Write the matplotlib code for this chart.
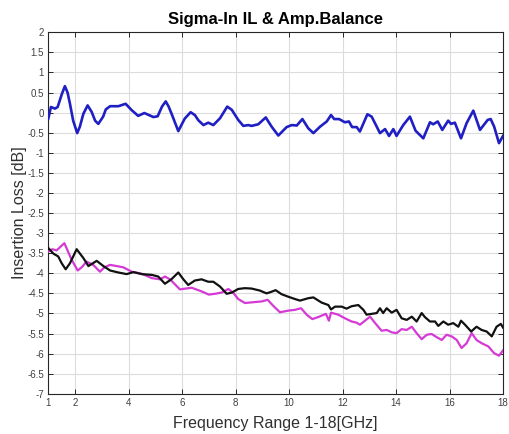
import matplotlib
matplotlib.use("Agg")
import matplotlib.pyplot as plt

blue_x = [1.00, 1.10, 1.25, 1.35, 1.50, 1.62, 1.72, 1.81, 1.93, 2.08, 2.18, 2.31, 2.47, 2.62, 2.75, 2.87,
          3.05, 3.15, 3.31, 3.62, 3.89, 4.12, 4.36, 4.59, 4.93, 5.09, 5.25, 5.39, 5.50, 5.61, 5.86, 6.10,
          6.32, 6.48, 6.61, 6.80, 6.98, 7.17, 7.42, 7.69, 7.86, 8.10, 8.29, 8.48, 8.60, 8.85, 9.13, 9.35,
          9.60, 9.91, 10.10, 10.29, 10.50, 10.72, 10.91, 11.16, 11.41, 11.57, 11.69, 11.87, 12.09, 12.24,
          12.36, 12.53, 12.65, 12.93, 13.09, 13.40, 13.59, 13.74, 13.90, 14.02, 14.27, 14.52, 14.73, 15.02,
          15.27, 15.39, 15.56, 15.73, 15.95, 16.06, 16.20, 16.43, 16.64, 16.89, 17.14, 17.43, 17.54, 17.67,
          17.85, 18.00]
blue_y = [-0.15, 0.14, 0.10, 0.14, 0.45, 0.66, 0.50, 0.22, -0.20, -0.51, -0.35, -0.03, 0.18, 0.02, -0.20, -0.28,
          -0.10, 0.08, 0.16, 0.16, 0.22, 0.06, -0.08, -0.01, -0.11, -0.09, 0.15, 0.28, 0.15, -0.03, -0.46, -0.15,
          0.01, -0.06, -0.19, -0.31, -0.25, -0.31, -0.14, 0.15, 0.07, -0.18, -0.33, -0.31, -0.33, -0.29, -0.12, -0.35,
          -0.57, -0.36, -0.31, -0.32, -0.16, -0.39, -0.51, -0.35, -0.22, -0.06, -0.16, -0.16, -0.24, -0.22,
          -0.36, -0.36, -0.47, -0.04, -0.10, -0.51, -0.41, -0.58, -0.41, -0.58, -0.31, -0.10, -0.45, -0.64,
          -0.24, -0.29, -0.22, -0.43, -0.20, -0.28, -0.25, -0.64, -0.26, 0.05, -0.43, -0.18, -0.16, -0.35,
          -0.76, -0.58]

black_x = [1.00, 1.19, 1.37, 1.50, 1.65, 1.81, 2.06, 2.31, 2.50, 2.81, 3.06, 3.31, 3.62, 3.93, 4.18, 4.49,
           4.87, 5.11, 5.36, 5.60, 5.86, 6.05, 6.23, 6.48, 6.73, 6.98, 7.17, 7.42, 7.67, 7.86, 8.10, 8.35,
           8.60, 8.91, 9.16, 9.30, 9.50, 9.72, 10.00, 10.22, 10.41, 10.72, 10.91, 11.22, 11.47, 11.57, 11.72,
           11.97, 12.15, 12.34, 12.59, 12.78, 12.90, 13.09, 13.28, 13.40, 13.52, 13.65, 13.84, 14.02, 14.21,
           14.40, 14.59, 14.77, 14.96, 15.08, 15.27, 15.46, 15.58, 15.77, 15.95, 16.14, 16.33, 16.43, 16.58,
           16.81, 17.01, 17.20, 17.39, 17.58, 17.76, 17.92, 18.00]
black_y = [-3.37, -3.51, -3.58, -3.75, -3.90, -3.75, -3.40, -3.62, -3.82, -3.69, -3.82, -3.93, -3.98, -4.02, -3.97, -4.02,
           -4.04, -4.08, -4.26, -4.15, -3.98, -4.15, -4.29, -4.18, -4.15, -4.21, -4.21, -4.33, -4.51, -4.48, -4.39, -4.37,
           -4.38, -4.43, -4.50, -4.47, -4.42, -4.52, -4.59, -4.64, -4.68, -4.62, -4.60, -4.73, -4.79, -4.90, -4.83,
           -4.83, -4.88, -4.82, -4.79, -4.91, -5.03, -5.01, -4.99, -4.87, -4.99, -4.87, -4.98, -4.91, -5.12,
           -5.16, -5.08, -5.20, -4.99, -5.09, -5.20, -5.20, -5.31, -5.20, -5.28, -5.24, -5.33, -5.18, -5.28,
           -5.45, -5.33, -5.41, -5.45, -5.57, -5.33, -5.26, -5.35]

mag_x = [1.00, 1.15, 1.31, 1.60, 1.87, 2.10, 2.25, 2.43, 2.68, 2.93, 3.10, 3.31, 3.80, 4.12, 4.49, 4.87,
         5.18, 5.36, 5.55, 5.92, 6.36, 6.73, 7.00, 7.23, 7.48, 7.73, 7.92, 8.10, 8.35, 8.66, 8.98, 9.20,
         9.41, 9.66, 9.97, 10.22, 10.45, 10.66, 10.87, 11.09, 11.38, 11.49, 11.57, 11.84, 12.09, 12.34,
         12.53, 12.65, 12.84, 13.03, 13.22, 13.46, 13.65, 13.84, 14.02, 14.21, 14.40, 14.59, 14.77, 14.96,
         15.15, 15.33, 15.52, 15.71, 15.89, 16.08, 16.27, 16.45, 16.64, 16.83, 17.01, 17.20, 17.45, 17.67,
         17.85, 18.00]
mag_y = [-3.46, -3.40, -3.43, -3.25, -3.66, -3.93, -3.85, -3.71, -3.79, -3.96, -3.85, -3.79, -3.85, -3.96, -4.01, -4.12,
         -4.15, -4.08, -4.15, -4.40, -4.36, -4.45, -4.53, -4.51, -4.48, -4.39, -4.49, -4.64, -4.74, -4.72, -4.70, -4.66,
         -4.81, -4.97, -4.93, -4.91, -4.87, -5.03, -5.14, -5.09, -5.01, -5.18, -4.98, -5.03, -5.12, -5.20,
         -5.23, -5.28, -5.18, -5.08, -5.24, -5.43, -5.41, -5.47, -5.49, -5.39, -5.41, -5.33, -5.49, -5.64,
         -5.53, -5.51, -5.59, -5.66, -5.53, -5.57, -5.66, -5.86, -5.74, -5.49, -5.66, -5.74, -5.82, -5.99,
         -6.05, -5.92]

x_ticks = [1, 2, 4, 6, 8, 10, 12, 14, 16, 18]
y_ticks = [v / 2 for v in range(-14, 5)]
y_labels = ["%g" % v for v in y_ticks]

title = "Sigma-In IL & Amp.Balance"
xlabel = "Frequency Range 1-18[GHz]"
ylabel = "Insertion Loss [dB]"

plt.rcParams['font.family'] = ['Liberation Sans', 'DejaVu Sans']

fig = plt.figure(figsize=(5.09, 4.34), dpi=100)
ax = fig.add_axes([48.3 / 509, 1 - 393.8 / 434, (503 - 48.3) / 509, (393.8 - 32.3) / 434])

ax.plot(blue_x, blue_y, color='#1f1fc4', lw=1.9, zorder=3)
ax.plot(mag_x, mag_y, color='#d53ad5', lw=1.6, zorder=3)
ax.plot(black_x, black_y, color='#111111', lw=1.6, zorder=4)

ax.set_xlim(1, 18)
ax.set_ylim(-7, 2)
ax.set_xticks(x_ticks)
ax.set_xticklabels([str(t) for t in x_ticks])
ax.set_yticks(y_ticks)
ax.set_yticklabels(y_labels)

ax.grid(True, color='#dcdcdc', lw=0.8, zorder=0)
ax.set_axisbelow(True)
ax.tick_params(direction='in', length=3.5, width=0.7, colors='#262626',
               labelsize=7, top=True, right=True, pad=3)
ax.tick_params(labelcolor='#404040')
for s in ax.spines.values():
    s.set_color('#262626')
    s.set_linewidth(0.8)

ax.set_title(title, fontsize=12, fontweight='bold', color='black', pad=6)
ax.set_xlabel(xlabel, fontsize=11.5, color='#303030', labelpad=6)
ax.set_ylabel(ylabel, fontsize=11.5, color='#303030', labelpad=0)

fig.savefig("out.png", dpi=100)
